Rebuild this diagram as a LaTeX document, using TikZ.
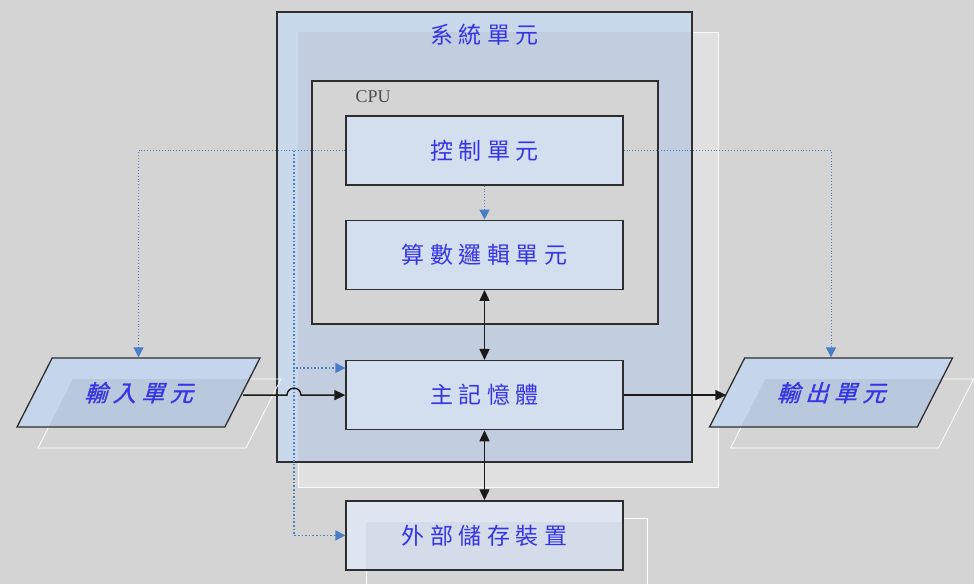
\documentclass[tikz,border=0pt]{standalone}
\usepackage{fontspec}
\usepackage{xcolor}
\usepackage{tikz}
\usetikzlibrary{arrows.meta,positioning,calc,shapes.geometric}
\newfontfamily\cjk{Noto Sans CJK TC}[LetterSpace=24]
\newfontfamily\cjkslant{Noto Sans CJK TC}[LetterSpace=24,FakeSlant=0.3,FakeBold=1.2]
\newfontfamily\cpufont{Liberation Serif}
\definecolor{PageGray}{HTML}{D4D4D4}
\definecolor{ShadowGray}{HTML}{E1E1E1}
\definecolor{SysBlue}{HTML}{C9D8EB}
\definecolor{SysInner}{HTML}{C2CEDF}
\definecolor{BoxBlue}{HTML}{D3DEEE}
\definecolor{StoreBlue}{HTML}{DFE6F1}
\definecolor{StoreInner}{HTML}{D4DCE9}
\definecolor{IOBlue}{HTML}{C5D6EC}
\definecolor{IOInner}{HTML}{B9C8DC}
\definecolor{EdgeGray}{HTML}{2E2E2E}
\definecolor{LabelBlue}{HTML}{3535E6}
\definecolor{SignalBlue}{HTML}{4A7FC8}

\begin{document}
\begin{tikzpicture}[x=1pt,y=-1pt,node distance=34pt,
  labeltext/.style={font=\cjk\fontsize{23}{25}\selectfont,text=LabelBlue},
  unitbox/.style={labeltext,draw=EdgeGray,line width=1.3pt,fill=BoxBlue,
    minimum width=277pt,minimum height=69pt,inner sep=0pt},
  iobox/.style={trapezium,trapezium left angle=63,trapezium right angle=117,
    trapezium stretches body,draw=EdgeGray,line width=1.3pt,fill=IOBlue,
    text height=20pt,text depth=2pt,inner ysep=23.5pt,inner xsep=0pt,
    minimum width=243pt,
    font=\cjkslant\fontsize{23}{25}\selectfont,text=LabelBlue,
    path picture={\fill[IOInner]
      ([shift={(56pt,-21pt)}]path picture bounding box.north west) --
      ([shift={(21pt,-21pt)}]path picture bounding box.north east) --
      ([shift={(-14pt,-21pt)}]path picture bounding box.south east) --
      ([shift={(21pt,-21pt)}]path picture bounding box.south west) -- cycle;}},
  ioshade/.style={iobox,draw=white,fill=none,line width=0.8pt,path picture={}},
  data/.style={line width=1.4pt,draw=black!90,-{Triangle[width=10pt,length=11pt]}},
  both/.style={data,{Triangle[width=10pt,length=11pt]}-{Triangle[width=10pt,length=11pt]}},
  signal/.style={dotted,line width=0.9pt,draw=SignalBlue,-{Triangle[width=10pt,length=10pt]}},
  bus/.style={signal,line width=1.6pt}]

\fill[PageGray] (0,0) rectangle (974,584);
\useasboundingbox (0,0) rectangle (974,584);

% system unit with its shadow
\filldraw[fill=ShadowGray,draw=white!85!PageGray,line width=0.8pt] (298,32) rectangle (718,487);
\node[draw=EdgeGray,line width=1.3pt,fill=SysBlue,minimum width=415pt,minimum height=450pt,
      path picture={\fill[SysInner] ([shift={(21pt,-20pt)}]path picture bounding box.north west)
        rectangle (path picture bounding box.south east);}] (sys) at (484.5,237) {};
\node[labeltext] (title) at (484.5,35) {系統單元};

% CPU
\node[draw=EdgeGray,line width=1.3pt,fill=PageGray,minimum width=346pt,minimum height=243pt] (cpu) at (485,202.5) {};
\node[font=\cpufont\fontsize{18}{19}\selectfont,text=black!70,anchor=west] (cpulabel) at (352,97) {CPU};

\node[unitbox] (ctrl) at (484.5,150.5) {控制單元};
\node[unitbox,below=of ctrl] (alu) {算數邏輯單元};
\node[unitbox,below=70pt of alu] (mem) {主記憶體};

% storage
\draw[white,line width=0.8pt] (366,518) rectangle (647,600);
\node[unitbox,below=70pt of mem,fill=StoreBlue,
      path picture={\fill[StoreInner] ([shift={(20pt,-21pt)}]path picture bounding box.north west)
        rectangle (path picture bounding box.south east);}] (ext) {外部儲存裝置};

% input / output
\node[ioshade] (inshade) at (159.5,413.5) {};
\node[iobox] (input) at (138.5,392.5) {輸入單元};
\node[ioshade] (outshade) at (852,413.5) {};
\node[iobox] (output) at (831,392.5) {輸出單元};

% control signals
\coordinate (bus) at (294,150.5);
\draw[signal] (ctrl) -- (alu);
\draw[signal] (ctrl.west) -| (input.center |- input.north);
\draw[signal] (ctrl.east) -| (output.center |- output.north);
\draw[bus] (bus) |- ([yshift=-8pt]mem.north west);
\draw[bus] (bus) |- (ext.west);

% data paths
\draw[data] (input.right side |- mem.west) -- ([xshift=-7pt]bus |- mem.west)
  arc[start angle=180,end angle=0,radius=7pt] -- (mem.west);
\draw[data] (mem.east) -- (output.left side |- mem.east);
\draw[both] (alu) -- (mem);
\draw[both] (mem) -- (ext);
\end{tikzpicture}
\end{document}
